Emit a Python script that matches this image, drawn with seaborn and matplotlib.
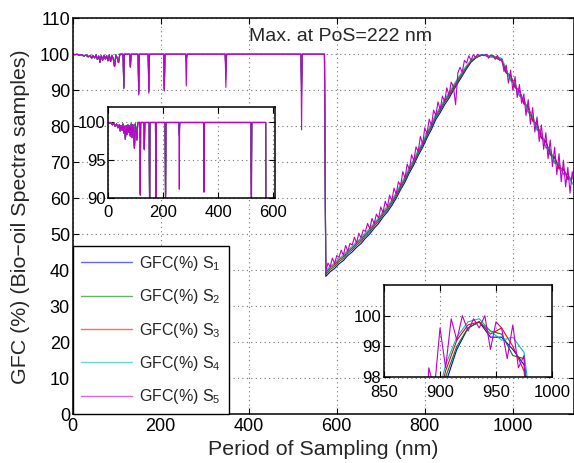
import numpy as np
import pandas as pd
import matplotlib
matplotlib.use("Agg")
import matplotlib.pyplot as plt
import seaborn as sns

# flat part at the start (0-112 nm), same for all five samples
flat_x = [0, 5, 10, 15, 20, 25, 30, 35, 40, 43, 46, 50, 53, 56, 59, 62, 65, 68, 71, 74,
          77, 80, 83, 86, 89, 92, 95, 98, 101, 104, 107, 112]
flat_y = [100, 99.9, 100, 99.7, 99.9, 99.5, 99.8, 99.3, 99.7, 98.9, 99.6, 99.0, 99.8, 98.6,
          99.5, 97.8, 99.6, 98.4, 99.7, 98.7, 99.6, 98.2, 99.8, 98.0, 99.7, 98.8, 96.6, 99.8,
          99.0, 97.7, 100, 100]

# narrow dips on the 100 % line (depth per sample)
dip_x = [116, 131, 150, 173, 208, 258, 348, 520]
dip_s1 = [91.0, 96.6, 89.6, 90.2, 90.6, 98.8, 96.5, 93.5]
dip_s2 = [90.8, 96.5, 89.4, 90.0, 90.4, 98.6, 95.5, 92.0]
dip_s3 = [90.7, 96.5, 89.2, 89.8, 90.2, 98.4, 94.5, 90.5]
dip_s4 = [90.6, 96.4, 89.0, 89.6, 90.0, 98.2, 93.0, 88.5]
dip_s5 = [90.4, 96.4, 88.7, 89.2, 89.8, 91.2, 90.8, 79.0]
step_x = 572

# spectrum after the step, S1-S4 every 10 nm, S5 every 5 nm
curve_x = np.arange(575, 1136, 10)
curve_s1 = [38.3, 39.6, 40.5, 41.8, 42.7, 44.1, 45.1, 46.4, 47.4, 48.9,
            50.1, 51.7, 53.0, 54.8, 56.2, 58.0, 60.0, 62.4, 64.5, 67.1,
            69.3, 71.9, 74.1, 76.8, 79.1, 81.9, 83.8, 86.0, 87.8, 90.0,
            92.0, 94.0, 96.0, 97.8, 98.9, 99.6, 99.8, 99.3, 99.3, 98.9,
            98.4, 94.8, 94.1, 90.8, 89.9, 86.4, 85.3, 81.6, 80.5, 76.9,
            75.6, 72.4, 71.2, 68.5, 68.0, 65.6, 65.4]
curve_s2 = [38.9, 40.2, 41.1, 42.4, 43.3, 44.7, 45.7, 47.0, 48.0, 49.5,
            50.7, 52.3, 53.6, 55.4, 56.8, 58.6, 60.6, 63.0, 65.1, 67.7,
            69.9, 72.5, 74.7, 77.4, 79.8, 82.5, 84.4, 86.6, 88.4, 90.5,
            92.5, 94.4, 96.3, 98.0, 99.0, 99.6, 99.8, 99.5, 99.4, 98.7,
            98.6, 95.6, 93.0, 91.6, 88.6, 87.4, 84.0, 82.6, 79.2, 78.0,
            74.2, 73.4, 70.0, 69.4, 66.8, 66.6, 64.2]
curve_s3 = [39.4, 40.7, 41.6, 42.9, 43.8, 45.2, 46.2, 47.5, 48.5, 50.0,
            51.2, 52.8, 54.1, 55.9, 57.3, 59.1, 61.1, 63.5, 65.6, 68.2,
            70.4, 73.0, 75.2, 77.9, 80.3, 83.0, 84.9, 87.1, 88.9, 91.0,
            92.9, 94.8, 96.6, 98.2, 99.2, 99.7, 99.8, 99.4, 99.6, 99.0,
            98.2, 94.9, 94.0, 90.9, 90.0, 86.2, 85.6, 81.5, 80.8, 76.6,
            76.0, 72.0, 71.6, 68.1, 68.4, 65.2, 65.8]
curve_s4 = [39.8, 41.1, 42.0, 43.3, 44.2, 45.6, 46.6, 47.9, 48.9, 50.4,
            51.6, 53.2, 54.5, 56.3, 57.7, 59.5, 61.5, 63.9, 66.0, 68.6,
            70.8, 73.4, 75.6, 78.3, 80.7, 83.4, 85.3, 87.5, 89.3, 91.4,
            93.3, 95.1, 96.9, 98.4, 99.3, 99.8, 99.9, 99.5, 99.2, 99.3,
            98.8, 95.9, 92.6, 92.0, 88.4, 87.8, 83.8, 83.0, 78.9, 78.2,
            74.0, 73.6, 69.7, 69.8, 66.5, 67.0, 63.9]
curve5_x = np.arange(575, 1141, 5)
curve_s5 = [39.8, 42.0, 41.0, 43.4, 41.9, 44.1, 43.6, 45.6, 44.2, 46.9,
            45.3, 47.5, 47.0, 49.2, 47.6, 50.3, 49.0, 51.2, 50.8, 53.0,
            51.5, 54.4, 53.0, 55.6, 54.5, 57.6, 56.0, 59.2, 57.6, 60.9,
            59.3, 62.8, 61.2, 64.6, 63.5, 67.4, 65.6, 69.5, 68.0, 72.1,
            70.4, 74.3, 73.0, 77.2, 75.0, 79.6, 77.9, 82.0, 80.2, 84.5,
            83.0, 86.8, 84.6, 88.4, 86.9, 90.7, 88.6, 92.3, 91.0, 86.0,
            94.8, 96.4, 95.0, 98.3, 97.6, 99.6, 98.3, 99.9, 99.2, 100.0,
            99.5, 99.9, 99.6, 100.0, 98.9, 99.8, 99.6, 98.6, 99.7, 98.3,
            98.7, 95.2, 97.0, 92.0, 95.6, 90.0, 93.8, 88.0, 91.6, 86.4,
            89.0, 83.0, 87.4, 80.6, 85.2, 78.4, 82.6, 75.8, 80.4, 73.6,
            78.2, 71.0, 76.2, 68.8, 74.2, 66.6, 72.4, 64.6, 70.6, 63.2,
            68.6, 61.4, 67.4, 63.5]

labels = ["GFC(%) S$_1$", "GFC(%) S$_2$", "GFC(%) S$_3$", "GFC(%) S$_4$", "GFC(%) S$_5$"]
colors = ["#0000ff", "#008000", "#ff0000", "#00bfbf", "#c000c8"]


def build(dips, cx, cy):
    xs = list(flat_x)
    ys = list(flat_y)
    for d, v in zip(dip_x, dips):
        xs += [d - 1.5, d, d + 1.5]
        ys += [100, v, 100]
    xs += [step_x]
    ys += [100]
    xs += list(cx)
    ys += list(cy)
    return xs, ys


frames = []
for lab, dips, cx, cy in zip(labels,
                             [dip_s1, dip_s2, dip_s3, dip_s4, dip_s5],
                             [curve_x, curve_x, curve_x, curve_x, curve5_x],
                             [curve_s1, curve_s2, curve_s3, curve_s4, curve_s5]):
    xs, ys = build(dips, cx, cy)
    frames.append(pd.DataFrame({"x": xs, "y": ys, "sample": lab}))
df = pd.concat(frames, ignore_index=True)

sns.set_style("ticks")
plt.rcParams["font.family"] = ["Liberation Sans", "DejaVu Sans"]
plt.rcParams["mathtext.fontset"] = "custom"
plt.rcParams["mathtext.rm"] = "Liberation Sans"
plt.rcParams["mathtext.default"] = "regular"
plt.rcParams["axes.linewidth"] = 1.1
plt.rcParams["axes.edgecolor"] = "black"

fig = plt.figure(figsize=(5.74, 4.63), dpi=100)
ax = fig.add_axes([0.1267, 0.1052, 0.8733, 0.8553])


def style(a, fs, xpad=2):
    a.tick_params(direction="in", top=True, right=True, length=4, width=0.8,
                  labelsize=fs, colors="black", pad=2)
    a.tick_params(axis="x", pad=xpad)
    a.grid(True, ls=(0, (1, 3)), color="0.45", lw=0.8)
    for s in a.spines.values():
        s.set_color("black")


sns.lineplot(data=df, x="x", y="y", hue="sample", palette=colors, estimator=None,
             sort=False, lw=0.8, ax=ax)
ax.set_xlim(0, 1139)
ax.set_ylim(0, 110)
ax.set_xticks([0, 200, 400, 600, 800, 1000])
ax.set_yticks(range(0, 111, 10))
style(ax, 13, xpad=3)
ax.set_xlabel("Period of Sampling (nm)", fontsize=15.4, labelpad=3)
ax.set_ylabel("GFC (%) (Bio\u2212oil Spectra samples)", fontsize=15.4, labelpad=7)
ax.text(609, 104.9, "Max. at PoS=222 nm", fontsize=14, ha="center", va="center")

handles, labs = ax.get_legend_handles_labels()
for h in handles:
    h.set_linewidth(1.0)
    h.set_alpha(0.6)
leg = ax.legend(handles, labs, loc="lower left", fontsize=11.5, frameon=True, fancybox=False,
                edgecolor="black", framealpha=1, borderaxespad=0, borderpad=0.5,
                labelspacing=0.9, handlelength=3.2, handletextpad=0.45)
leg.get_frame().set_linewidth(1.0)

# inset: start of the spectrum
ax1 = fig.add_axes([0.1887, 0.5717, 0.2904, 0.1965])
sns.lineplot(data=df, x="x", y="y", hue="sample", palette=colors, estimator=None,
             sort=False, lw=0.8, ax=ax1, legend=False)
ax1.set_xlim(0, 606)
ax1.set_ylim(90, 102)
ax1.set_xticks([0, 200, 400, 600])
ax1.set_yticks([90, 95, 100])
style(ax1, 12, xpad=5)
ax1.set_xlabel("")
ax1.set_ylabel("")

# inset: around the maximum
ax2 = fig.add_axes([0.669, 0.1857, 0.2927, 0.1987])
sns.lineplot(data=df, x="x", y="y", hue="sample", palette=colors, estimator=None,
             sort=False, lw=0.8, ax=ax2, legend=False)
ax2.set_xlim(850, 1000)
ax2.set_ylim(98, 101)
ax2.set_xticks([850, 900, 950, 1000])
ax2.set_yticks([98, 99, 100])
style(ax2, 12, xpad=6)
ax2.set_xlabel("")
ax2.set_ylabel("")

fig.savefig("out.png", dpi=100)
